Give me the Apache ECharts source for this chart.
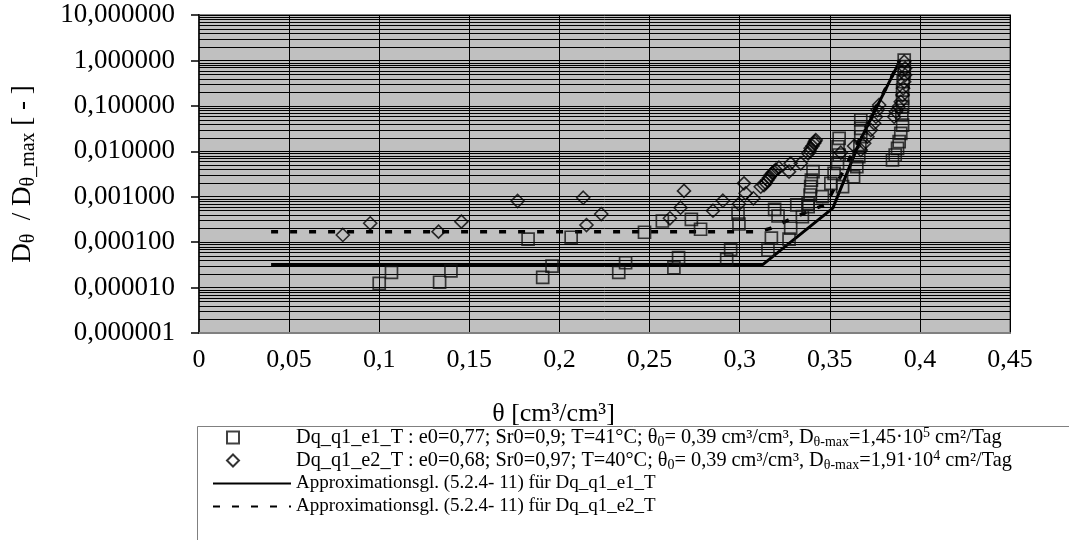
<!DOCTYPE html>
<html><head><meta charset="utf-8">
<script src="https://cdn.jsdelivr.net/npm/echarts@6/dist/echarts.min.js"></script>
<style>html,body{margin:0;padding:0;background:#fff}#c{width:1069px;height:540px}</style>
</head><body><div id="c"></div>
<script>
// ---- data (theta [cm3/cm3], D/Dmax [-]) ----
const xTickValues = [0, 0.05, 0.1, 0.15, 0.2, 0.25, 0.3, 0.35, 0.4, 0.45];
const yDecades = [0.000001, 0.00001, 0.0001, 0.001, 0.01, 0.1, 1, 10];

const e1Points = [
  [0.1000,1.24e-5],[0.1068,2.17e-5],[0.1335,1.31e-5],[0.1398,2.32e-5],[0.1826,1.17e-4],
  [0.1907,1.68e-5],[0.1959,2.98e-5],[0.2065,1.28e-4],[0.2329,2.17e-5],[0.2367,3.52e-5],
  [0.2472,1.65e-4],[0.2571,2.92e-4],[0.2635,2.73e-5],[0.2661,4.54e-5],[0.2732,3.18e-4],
  [0.2783,1.92e-4],[0.2928,4.19e-5],[0.2950,6.95e-5],[0.2991,4.31e-4],[0.2996,2.51e-4],
  [0.3157,6.7e-5],[0.3176,1.22e-4],[0.3194,5.28e-4],[0.3213,3.76e-4],[0.3274,1.17e-4],
  [0.3283,2.02e-4],[0.3317,6.58e-4],[0.3348,3.63e-4],[0.3380,6.03e-4],[0.3380,7.16e-4],
  [0.3391,1.09e-3],[0.3394,1.66e-3],[0.3398,2.33e-3],[0.3407,3.56e-3],[0.3459,1.0e-3],
  [0.3506,1.97e-3],[0.3524,3.27e-3],[0.3543,5.43e-3],[0.3552,8.28e-3],[0.3546,1.26e-2],
  [0.3552,1.93e-2],[0.3571,1.66e-3],[0.3632,2.75e-3],[0.3650,4.58e-3],[0.3661,7.6e-3],
  [0.3667,1.26e-2],[0.3672,2.09e-2],[0.3672,3.21e-2],[0.3672,4.89e-2],[0.3848,6.43e-3],
  [0.3863,8.28e-3],[0.3876,1.16e-2],[0.3885,1.63e-2],[0.3894,2.49e-2],[0.3904,3.78e-2],
  [0.3900,6.3e-2],[0.3904,9.57e-2],[0.3904,0.147],[0.3904,0.223],[0.3907,0.34],
  [0.3913,0.52],[0.3913,0.728],[0.3913,1.02]
];
const e2Points = [
  [0.0798,1.44e-4],[0.0950,2.6e-4],[0.1329,1.70e-4],[0.1456,2.82e-4],[0.1768,8.05e-4],
  [0.2132,9.5e-4],[0.2150,2.38e-4],[0.2232,4.16e-4],[0.2613,3.35e-4],[0.2672,5.73e-4],
  [0.2691,1.34e-3],[0.2852,4.92e-4],[0.2907,8.17e-4],[0.2996,6.92e-4],[0.3024,1.97e-3],
  [0.3033,1.19e-3],[0.3076,9.23e-4],[0.3117,1.66e-3],[0.3135,1.81e-3],[0.3145,2.0e-3],
  [0.3154,2.33e-3],[0.3163,2.6e-3],[0.3172,3.0e-3],[0.3182,3.3e-3],[0.3191,3.56e-3],
  [0.3200,3.9e-3],[0.3218,4.35e-3],[0.3274,3.56e-3],[0.3283,5.43e-3],[0.3339,5.43e-3],
  [0.3380,9.04e-3],[0.3390,1.0e-2],[0.3394,1.16e-2],[0.3404,1.3e-2],[0.3413,1.5e-2],
  [0.3418,1.65e-2],[0.3422,1.77e-2],[0.3561,9.31e-3],[0.3635,1.31e-2],[0.3672,1.07e-2],
  [0.3691,1.5e-2],[0.3709,2.09e-2],[0.3728,2.94e-2],[0.3746,4.13e-2],[0.3756,5.77e-2],
  [0.3765,8.1e-2],[0.3774,0.1045],[0.3857,5.77e-2],[0.3867,7.43e-2],[0.3882,9.57e-2],
  [0.3894,0.123],[0.3904,0.173],[0.3907,0.243],[0.3913,0.34],[0.3918,0.477],
  [0.3918,0.67],[0.3913,0.938]
];
const approx1 = [[0.04,3.2e-5],[0.3128,3.2e-5],[0.3517,5.6e-4],[0.367,1.78e-2],[0.389,1.0]];
const approx2 = [[0.04,1.7e-4],[0.31,1.7e-4],[0.317,2.0e-4],[0.328,3.2e-4],[0.348,6.9e-4],[0.367,2.0e-2],[0.389,1.0]];

const seriesNames = [
  'Dq_q1_e1_T', 'Dq_q1_e2_T',
  'Approximationsgl. (5.2.4- 11) für Dq_q1_e1_T',
  'Approximationsgl. (5.2.4- 11) für Dq_q1_e2_T'
];
const legendLabels = {
  'Dq_q1_e1_T': 'Dq_q1_e1_T : e0=0,77; Sr0=0,9; T=41°C; θ{sub|0}= 0,39 cm³/cm³, D{sub|θ-max}=1,45·10{sup|5} cm²/Tag',
  'Dq_q1_e2_T': 'Dq_q1_e2_T : e0=0,68; Sr0=0,97; T=40°C; θ{sub|0}= 0,39 cm³/cm³, D{sub|θ-max}=1,91·10{sup|4} cm²/Tag'
};
const xTitle = 'θ [cm³/cm³]';
const yTitle = '{n|D}{s|θ}{n|  / D}{s|θ_max}{n| [ - ]}';

// ---- chart ----
const FONT = 'Liberation Serif';
const X_MIN = xTickValues[0], X_MAX = xTickValues[xTickValues.length - 1];
const minorGridValues = [];
for (let i = 0; i < yDecades.length - 1; i++) {
  for (let k = 2; k <= 9; k++) minorGridValues.push(yDecades[i] * k);
}
const legendRich = {
  sub: { fontFamily: FONT, fontSize: 14, lineHeight: 14, verticalAlign: 'bottom', color: '#000' },
  sup: { fontFamily: FONT, fontSize: 14, lineHeight: 14, verticalAlign: 'top', color: '#000' }
};
const chart = echarts.init(document.getElementById('c'), null, { renderer: 'canvas' });
chart.setOption({
  backgroundColor: '#ffffff',
  animation: false,
  textStyle: { fontFamily: FONT, color: '#000' },
  grid: {
    left: 199, right: 59, top: 15, bottom: 207,
    show: true, backgroundColor: '#c0c0c0', borderColor: '#808080', borderWidth: 2
  },
  xAxis: {
    type: 'value', min: X_MIN, max: X_MAX, interval: 0.05,
    axisLine: { show: true, lineStyle: { color: '#808080', width: 2 } },
    axisTick: { show: false },
    axisLabel: {
      margin: 14, fontFamily: FONT, fontSize: 26, color: '#000',
      formatter: v => String(Math.round(v * 100) / 100).replace('.', ',')
    },
    splitLine: { show: true, lineStyle: { color: '#000', width: 1 } },
    name: xTitle, nameLocation: 'middle', nameGap: 68,
    nameTextStyle: { fontFamily: FONT, fontSize: 26, color: '#000', padding: [0, 102, 0, 0] }
  },
  yAxis: {
    type: 'log', logBase: 10, min: yDecades[0], max: yDecades[yDecades.length - 1], splitNumber: 7,
    axisLine: { show: true, lineStyle: { color: '#222', width: 2 } },
    axisTick: { show: true, inside: false, length: 8, lineStyle: { color: '#000', width: 1.5 } },
    axisLabel: {
      margin: 24, fontFamily: FONT, fontSize: 27, color: '#000',
      formatter: v => Number(v).toFixed(6).replace('.', ',')
    },
    splitLine: { show: true, lineStyle: { color: '#000', width: 1 } },
    name: yTitle, nameLocation: 'middle', nameRotate: 90, nameGap: 160,
    nameTextStyle: {
      fontFamily: FONT, fontSize: 27, color: '#000',
      rich: {
        n: { fontFamily: FONT, fontSize: 27, lineHeight: 32, color: '#000' },
        s: { fontFamily: FONT, fontSize: 20, lineHeight: 20, verticalAlign: 'bottom', color: '#000' }
      }
    }
  },
  legend: [
    {
      data: [seriesNames[0], seriesNames[1]], orient: 'vertical', left: 226, top: 426,
      itemWidth: 12, itemHeight: 12, itemGap: 0, padding: 0, selectedMode: false,
      formatter: n => legendLabels[n],
      textStyle: { fontFamily: FONT, fontSize: 20.3, lineHeight: 23, color: '#000', padding: [0, 0, 0, 52], rich: legendRich }
    },
    {
      data: [seriesNames[2], seriesNames[3]], orient: 'vertical', left: 212, top: 472,
      itemWidth: 78, itemHeight: 12, itemGap: 0, padding: 0, selectedMode: false,
      itemStyle: { opacity: 0 },
      textStyle: { fontFamily: FONT, fontSize: 19, lineHeight: 23, color: '#000' }
    }
  ],
  graphic: [{
    type: 'rect', silent: true, z: -1,
    shape: { x: 197.5, y: 426.5, width: 900, height: 140 },
    style: { fill: 'none', stroke: '#808080', lineWidth: 1 }
  }],
  series: [
    {
      name: 'minor-grid', type: 'custom', silent: true, z: 1,
      data: minorGridValues.map(v => [X_MIN, v]),
      encode: { x: 0, y: 1 },
      renderItem: (params, api) => {
        const v = api.value(1);
        const p1 = api.coord([X_MIN, v]);
        const p2 = api.coord([X_MAX, v]);
        const y = Math.round(p1[1]) + 0.5;
        return { type: 'line', shape: { x1: p1[0], y1: y, x2: p2[0], y2: y }, style: { stroke: '#000', lineWidth: 1 } };
      }
    },
    {
      name: seriesNames[2], type: 'line', data: approx1, symbol: 'none', z: 2,
      lineStyle: { color: '#000', width: 3, type: 'solid' }, itemStyle: { color: '#000' }
    },
    {
      name: seriesNames[3], type: 'line', data: approx2, symbol: 'none', z: 2,
      lineStyle: { color: '#000', width: 3.5, type: [7, 12], cap: 'butt' }, itemStyle: { color: '#000' }
    },
    {
      name: seriesNames[0], type: 'scatter', data: e1Points, symbol: 'rect', symbolSize: 12, z: 3,
      itemStyle: { color: 'rgba(0,0,0,0)', borderColor: '#111', borderWidth: 1.7 }
    },
    {
      name: seriesNames[1], type: 'scatter', data: e2Points, symbol: 'diamond', symbolSize: 13, z: 3,
      itemStyle: { color: 'rgba(0,0,0,0)', borderColor: '#000', borderWidth: 1.6 }
    }
  ]
});
</script></body></html>
